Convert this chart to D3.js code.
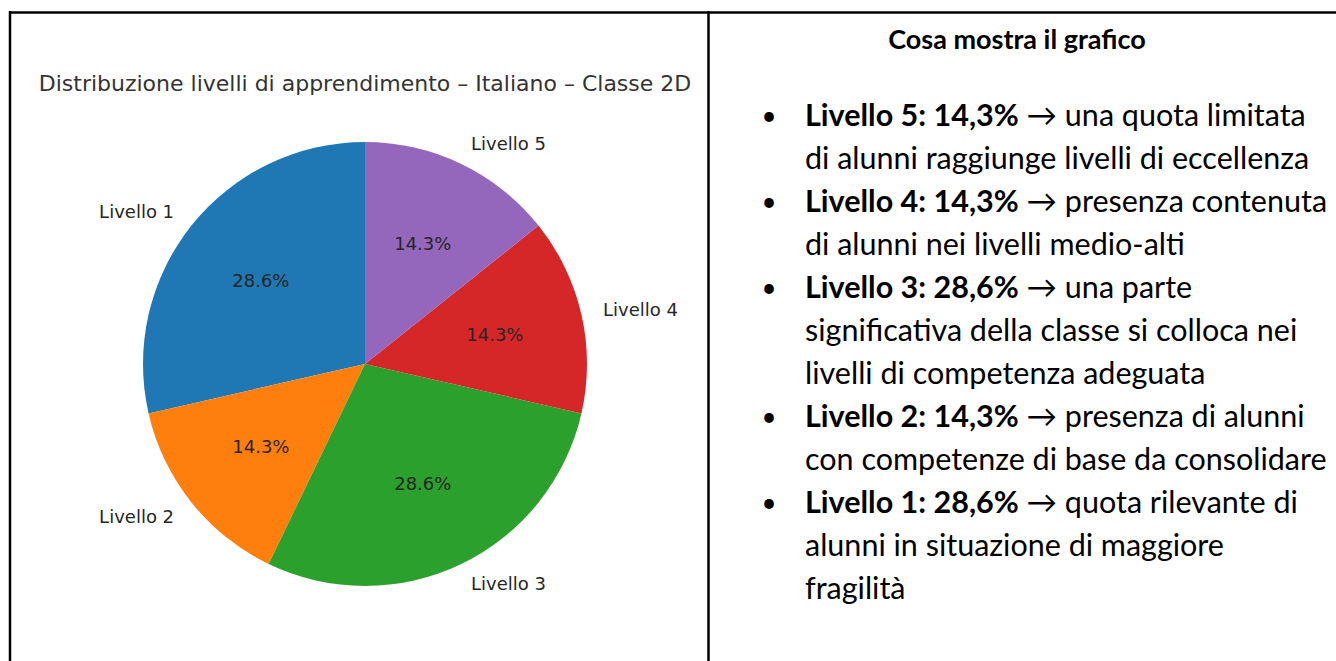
<!DOCTYPE html>
<html>
<head>
<meta charset="utf-8">
<script src="https://cdn.jsdelivr.net/npm/d3@7"></script>
<style>
  html, body { margin: 0; padding: 0; background: #fff; }
  svg { display: block; }
</style>
</head>
<body>
<div id="chart"></div>
<script>
// Pie data
const levels = ["Livello 1", "Livello 2", "Livello 3", "Livello 4", "Livello 5"]
const counts = [2, 1, 2, 1, 1]
const colors = ["#1f77b4", "#ff7f0e", "#2ca02c", "#d62728", "#9467bd"]
const chartTitle = "Distribuzione livelli di apprendimento – Italiano – Classe 2D"

// Right cell text
const heading = "Cosa mostra il grafico"
const bulletBold = ["Livello 5: 14,3%", "Livello 4: 14,3%", "Livello 3: 28,6%", "Livello 2: 14,3%", "Livello 1: 28,6%"]
const bulletLines = [
  ["una quota limitata", "di alunni raggiunge livelli di eccellenza"],
  ["presenza contenuta", "di alunni nei livelli medio-alti"],
  ["una parte", "significativa della classe si colloca nei", "livelli di competenza adeguata"],
  ["presenza di alunni", "con competenze di base da consolidare"],
  ["quota rilevante di", "alunni in situazione di maggiore", "fragilità"]
]

const W = 1336, H = 661
const svg = d3.select("#chart").append("svg")
  .attr("width", W)
  .attr("height", H)

// Table borders
const border = svg.append("g").attr("stroke", "#000").attr("stroke-width", 2.5)
border.append("line").attr("x1", 9).attr("x2", W).attr("y1", 12.5).attr("y2", 12.5)
border.append("line").attr("x1", 10).attr("x2", 10).attr("y1", 11).attr("y2", H)
border.append("line").attr("x1", 708.5).attr("x2", 708.5).attr("y1", 11).attr("y2", H)

// Pie chart
const cx = 365, cy = 364, r = 222
const total = d3.sum(counts)
const pieData = levels.map((l, i) => ({ label: l, value: counts[i], color: colors[i] }))

// matplotlib style: start at 12 o'clock, counterclockwise
const pie = d3.pie().sort(null).value(d => d.value)
  .startAngle(0).endAngle(-2 * Math.PI)
const arcs = pie(pieData)

const arc = d3.arc().innerRadius(0).outerRadius(r)
const labelArc = d3.arc().innerRadius(r * 1.1).outerRadius(r * 1.1)
const pctArc = d3.arc().innerRadius(r * 0.6).outerRadius(r * 0.6)

const g = svg.append("g").attr("transform", `translate(${cx},${cy})`)

g.selectAll("path.slice")
  .data(arcs)
  .enter()
  .append("path")
  .attr("class", "slice")
  .attr("d", arc)
  .attr("fill", d => d.data.color)

g.selectAll("text.label")
  .data(arcs)
  .enter()
  .append("text")
  .attr("class", "label")
  .attr("transform", d => `translate(${labelArc.centroid(d)})`)
  .attr("text-anchor", d => labelArc.centroid(d)[0] > 0 ? "start" : "end")
  .attr("dy", "0.35em")
  .style("font-family", "DejaVu Sans")
  .style("font-size", "18px")
  .style("fill", "#262626")
  .text(d => d.data.label)

g.selectAll("text.pct")
  .data(arcs)
  .enter()
  .append("text")
  .attr("class", "pct")
  .attr("transform", d => `translate(${pctArc.centroid(d)})`)
  .attr("text-anchor", "middle")
  .attr("dy", "0.35em")
  .style("font-family", "DejaVu Sans")
  .style("font-size", "18px")
  .style("fill", "#262626")
  .text(d => d3.format(".1f")(d.value / total * 100) + "%")

svg.append("text")
  .attr("x", cx)
  .attr("y", 83)
  .attr("dy", "0.35em")
  .attr("text-anchor", "middle")
  .style("font-family", "DejaVu Sans")
  .style("font-size", "22px")
  .style("fill", "#333")
  .text(chartTitle)

// Right cell
svg.append("text")
  .attr("x", 1017)
  .attr("y", 49)
  .attr("text-anchor", "middle")
  .style("font-family", "Lato")
  .style("font-weight", "bold")
  .style("font-size", "27px")
  .style("fill", "#000")
  .text(heading)

const lineY = d3.scaleLinear().domain([0, 1]).range([126, 169])
const textX = 805, bulletX = 769
let row = 0
bulletBold.forEach((b, i) => {
  bulletLines[i].forEach((line, j) => {
    const t = svg.append("text")
      .attr("x", textX)
      .attr("y", lineY(row))
      .style("font-family", "Lato")
      .style("font-size", "30.5px")
      .style("fill", "#000")
    if (j === 0) {
      svg.append("text")
        .attr("x", bulletX)
        .attr("y", lineY(row) - 1)
        .attr("text-anchor", "middle")
        .style("font-family", "Lato")
        .style("font-size", "26px")
        .text("•")
      t.append("tspan").style("font-weight", "bold").text(b)
      t.append("tspan").text(" → " + line)
    } else {
      t.text(line)
    }
    row++
  })
})
</script>
</body>
</html>
